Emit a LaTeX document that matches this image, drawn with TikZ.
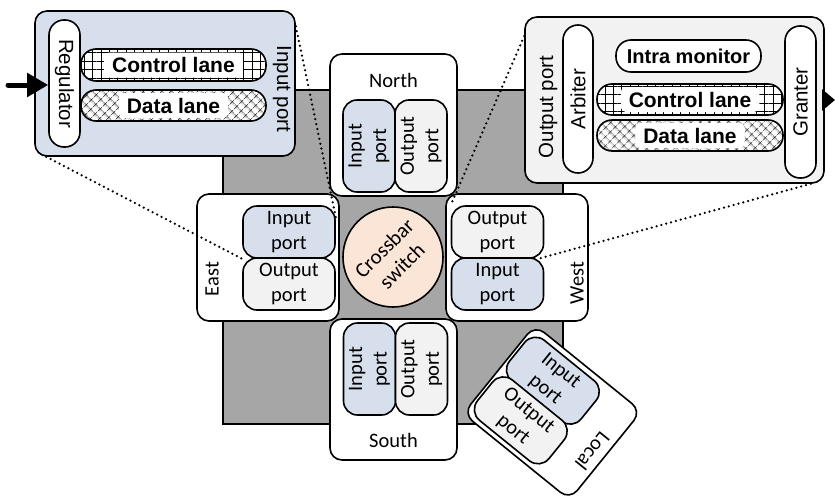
\documentclass[tikz,border=0pt]{standalone}
\usepackage{fontspec}
\setmainfont{Carlito}
\newfontfamily\arialfont{Liberation Sans}
\usetikzlibrary{patterns.meta,arrows.meta}

\definecolor{portblue}{HTML}{D6DFEB}
\definecolor{portgray}{HTML}{F2F2F2}
\definecolor{corefill}{HTML}{A6A6A6}
\definecolor{xbarfill}{HTML}{FBE5D6}

\tikzset{
  every node/.style={font=\fontsize{20.5}{24.5}\selectfont, align=center, inner sep=0pt},
  boxline/.style={draw=black, line width=1.6pt},
  dirbox/.style={boxline, fill=white, rounded corners=12pt},
  inport/.style={boxline, fill=portblue, rounded corners=14pt, minimum width=92pt, minimum height=52pt},
  outport/.style={boxline, fill=portgray, rounded corners=14pt, minimum width=92pt, minimum height=52pt},
  detailbox/.style={boxline, rounded corners=12pt},
  pill/.style={boxline, fill=white, rounded corners=15pt, minimum height=31pt,
               font=\arialfont\fontsize{20.5}{24}\selectfont},
  lane/.style={boxline, rounded corners=15pt, minimum height=31pt, preaction={fill=white}},
  ctrlhatch/.style={pattern={Hatch[angle=0,distance=8.4pt,line width=0.6pt]}},
  datahatch/.style={pattern={Hatch[angle=45,distance=6.5pt,line width=0.6pt]}},
  lanetext/.style={fill=white, rounded corners=5pt, inner xsep=8pt, minimum height=25pt,
                   font=\arialfont\bfseries\fontsize{21}{24}\selectfont},
  armlabel/.style={font=\arialfont\fontsize{20.5}{24}\selectfont},
  zoomline/.style={line width=2.5pt, dash pattern=on 0pt off 5pt, line cap=round},
  flow/.style={line width=5pt, line cap=round, -{Triangle[length=21pt,width=23pt]}},
}

\begin{document}
\begin{tikzpicture}[x=1pt, y=-1pt]
\useasboundingbox (0,0) rectangle (835,498);

% router core
\node[boxline, fill=corefill, line width=1.2pt, minimum width=340pt, minimum height=334pt] (core) at (393,257) {};

% north arm
\node[dirbox, minimum width=127pt, minimum height=142pt] (north) at (393.5,125) {};
\node (northlabel) at (393.5,80) {North};
\node[inport, rotate=90] (northin) at (369,146) {Input\\port};
\node[outport, rotate=90] (northout) at (421,146) {Output\\port};

% south arm
\node[dirbox, minimum width=127pt, minimum height=141pt] (south) at (393.5,389.5) {};
\node (southlabel) at (393.5,440) {South};
\node[inport, rotate=90] (southin) at (369.5,369) {Input\\port};
\node[outport, rotate=90] (southout) at (421.5,369) {Output\\port};

% east arm
\node[dirbox, minimum width=142pt, minimum height=127pt] (east) at (268,257.5) {};
\node[rotate=90] (eastlabel) at (212,279) {East};
\node[inport] (eastin) at (289,232) {Input\\port};
\node[outport] (eastout) at (289,284) {Output\\port};

% west arm
\node[dirbox, minimum width=142pt, minimum height=127pt] (west) at (517,257.5) {};
\node[rotate=90] (westlabel) at (577,283) {West};
\node[outport] (westout) at (497.5,232) {Output\\port};
\node[inport] (westin) at (497.5,284) {Input\\port};

% crossbar
\node[circle, boxline, fill=xbarfill, minimum size=100pt] (xbar) at (393,257) {};
\node[rotate=45, font=\fontsize{21}{25}\selectfont] (xbarlabel) at (xbar) {Crossbar\\switch};

% local arm, tilted
\begin{scope}[shift={(552.3,412.4)}, rotate=-39, transform shape]
  \node[dirbox, minimum width=137pt, minimum height=114pt] (local) at (0,0) {};
  \node[inport] (localin) at (-19.5,-25) {Input\\port};
  \node[outport] (localout) at (-19.5,26) {Output\\port};
  \node[rotate=-90] (locallabel) at (56,5) {Local};
\end{scope}

% input port close-up
\node[detailbox, fill=portblue, minimum width=260pt, minimum height=145pt] (indetail) at (165,83.5) {};
\node[pill, rotate=-90, minimum width=127pt] (regulator) at (64.5,83.5) {Regulator};
\node[lane, ctrlhatch, minimum width=185pt, minimum height=32pt] (inctrl) at (173.5,65) {};
\node[lanetext] (inctrltext) at (inctrl) {Control lane};
\node[lane, datahatch, minimum width=185pt] (indata) at (173.5,105.5) {};
\node[lanetext] (indatatext) at (indata) {Data lane};
\node[armlabel, rotate=-90] (inlabel) at (282,89) {Input port};

% output port close-up
\node[detailbox, fill=portgray, minimum width=299pt, minimum height=166pt] (outdetail) at (674.5,100) {};
\node[armlabel, rotate=90] (outlabel) at (548,107) {Output port};
\node[pill, rotate=90, minimum width=148pt, minimum height=30pt] (arbiter) at (578,99) {Arbiter};
\node[pill, rotate=90, minimum width=152pt] (granter) at (800.5,102) {Granter};
\node[pill, font=\arialfont\bfseries\fontsize{20}{24}\selectfont, minimum width=145pt, minimum height=32pt] (monitor) at (688.5,56) {Intra monitor};
\node[lane, ctrlhatch, minimum width=186pt] (outctrl) at (690,99.5) {};
\node[lanetext] (outctrltext) at (outctrl) {Control lane};
\node[lane, datahatch, minimum width=186pt] (outdata) at (690,135.5) {};
\node[lanetext] (outdatatext) at (outdata) {Data lane};

% traffic in and out
\coordinate (feed) at (8,85);
\draw[flow] (feed) -- (feed -| regulator.south);
\coordinate (drain) at (835,100);
\draw[flow, line cap=butt, -{Triangle[length=13pt,width=21pt]}] (outdetail.east |- drain) -- (drain);

% close-up guides
\draw[zoomline] ([yshift=-16pt]indetail.north east) -- ([yshift=-12pt]eastin.north east);
\draw[zoomline] ([xshift=12pt]indetail.south west) -- (eastin.south west);
\draw[zoomline] ([yshift=-20pt]outdetail.north west) -- (westout.north west);
\draw[zoomline] ([xshift=-14pt]outdetail.south east) -- ([xshift=-6pt]westout.south east);
\end{tikzpicture}
\end{document}
